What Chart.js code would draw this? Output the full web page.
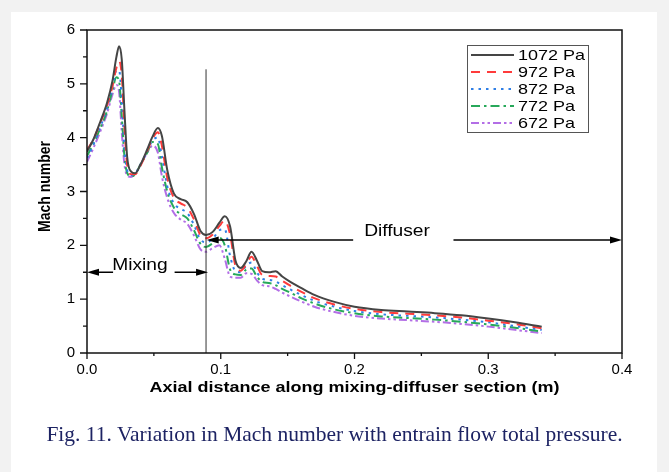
<!DOCTYPE html>
<html lang="en">
<head>
    <meta charset="UTF-8">
    <title>Mach number along mixing-diffuser section</title>
    <script src="https://cdn.jsdelivr.net/npm/chart.js"></script>
    <style>
        html, body {
            margin: 0;
            padding: 0;
            background-color: #f2f2f2;
        }

        body {
            width: 669px;
            height: 472px;
            position: relative;
            overflow: hidden;
        }

        .panel {
            position: absolute;
            left: 11px;
            top: 12px;
            width: 646px;
            height: 470px;
            background-color: #fff;
        }

        #machChart {
            position: absolute;
            left: 0;
            top: 0;
        }

        .caption {
            position: absolute;
            left: 0;
            top: 422px;
            width: 669px;
            text-align: center;
            font-family: 'Liberation Serif', 'Times New Roman', serif;
            font-size: 21.5px;
            color: #1d2363;
        }
    </style>
</head>
<body>
    <div class="panel"></div>
    <canvas id="machChart" width="669" height="472"></canvas>
    <div class="caption">Fig. 11. Variation in Mach number with entrain flow total pressure.</div>

    <script>
        // Axial distance (m) shared by all curves
        const distance = [0, 0.005, 0.010, 0.015, 0.019, 0.022, 0.024, 0.026, 0.028, 0.030,
            0.033, 0.036, 0.040, 0.045, 0.049, 0.053, 0.056, 0.060, 0.065, 0.070,
            0.075, 0.080, 0.085, 0.089, 0.094, 0.099, 0.103, 0.107, 0.111, 0.115,
            0.119, 0.123, 0.127, 0.131, 0.136, 0.141, 0.146, 0.152, 0.160, 0.170,
            0.185, 0.200, 0.220, 0.240, 0.260, 0.280, 0.300, 0.320, 0.340];

        // Mach number for each entrain flow total pressure
        const mach1072 = [3.74, 3.98, 4.30, 4.65, 5.05, 5.50, 5.70, 5.45, 4.50, 3.65,
            3.37, 3.34, 3.50, 3.78, 4.02, 4.18, 4.03, 3.40, 2.96, 2.86,
            2.80, 2.58, 2.26, 2.19, 2.25, 2.42, 2.54, 2.35, 1.72, 1.58,
            1.70, 1.88, 1.72, 1.52, 1.50, 1.52, 1.42, 1.32, 1.21, 1.08,
            0.95, 0.86, 0.80, 0.77, 0.74, 0.70, 0.64, 0.57, 0.49];
        const mach972 = [3.77, 3.98, 4.28, 4.60, 4.95, 5.30, 5.42, 5.15, 4.20, 3.50,
            3.32, 3.32, 3.48, 3.75, 3.98, 4.10, 3.85, 3.25, 2.88, 2.78,
            2.70, 2.48, 2.18, 2.13, 2.20, 2.36, 2.46, 2.20, 1.62, 1.53,
            1.65, 1.79, 1.62, 1.45, 1.43, 1.42, 1.34, 1.25, 1.14, 1.02,
            0.90, 0.82, 0.76, 0.73, 0.70, 0.66, 0.60, 0.54, 0.46];
        const mach872 = [3.62, 3.88, 4.20, 4.55, 4.95, 5.25, 5.25, 4.70, 3.80, 3.40,
            3.30, 3.33, 3.50, 3.75, 3.95, 4.00, 3.65, 3.10, 2.78, 2.68,
            2.60, 2.38, 2.10, 2.06, 2.12, 2.28, 2.30, 1.80, 1.52, 1.50,
            1.62, 1.68, 1.50, 1.38, 1.36, 1.33, 1.26, 1.18, 1.08, 0.97,
            0.86, 0.78, 0.72, 0.69, 0.66, 0.62, 0.57, 0.50, 0.43];
        const mach772 = [3.66, 3.90, 4.18, 4.50, 4.88, 5.12, 5.05, 4.40, 3.65, 3.35,
            3.28, 3.32, 3.50, 3.72, 3.92, 3.88, 3.45, 3.00, 2.70, 2.58,
            2.50, 2.28, 2.02, 1.97, 2.04, 2.14, 2.00, 1.55, 1.46, 1.45,
            1.55, 1.57, 1.42, 1.32, 1.30, 1.26, 1.19, 1.12, 1.02, 0.92,
            0.81, 0.74, 0.68, 0.65, 0.62, 0.58, 0.53, 0.47, 0.40];
        const mach672 = [3.55, 3.82, 4.12, 4.45, 4.80, 4.98, 4.85, 4.10, 3.50, 3.30,
            3.27, 3.33, 3.50, 3.72, 3.85, 3.72, 3.28, 2.88, 2.60, 2.48,
            2.40, 2.18, 1.92, 1.88, 1.95, 2.00, 1.75, 1.42, 1.40, 1.40,
            1.48, 1.47, 1.35, 1.26, 1.24, 1.19, 1.12, 1.05, 0.96, 0.86,
            0.76, 0.69, 0.64, 0.61, 0.58, 0.54, 0.49, 0.43, 0.37];

        const seriesLabels = ['1072 Pa', '972 Pa', '872 Pa', '772 Pa', '672 Pa'];
        const seriesValues = [mach1072, mach972, mach872, mach772, mach672];

        const xTicks = [0, 0.1, 0.2, 0.3, 0.4];
        const yTicks = [0, 1, 2, 3, 4, 5, 6];

        const lineStyles = [
            { color: '#454545', dash: [] },
            { color: '#ff3b3b', dash: [9, 7] },
            { color: '#2f7fe6', dash: [2.5, 5] },
            { color: '#27a85a', dash: [9, 4, 2.5, 4] },
            { color: '#b36ee6', dash: [8, 3, 2.5, 3, 2.5, 3] }
        ];

        const SX = 1.2; // the figure's text looks stretched sideways

        function stretchedText(ctx, text, x, y, font, align) {
            ctx.save();
            ctx.font = font;
            ctx.textBaseline = 'middle';
            ctx.textAlign = align;
            ctx.translate(x, y);
            ctx.scale(SX, 1);
            ctx.fillText(text, 0, 0);
            ctx.restore();
        }

        function arrow(ctx, x1, y, x2) {
            const dir = x2 > x1 ? 1 : -1;
            ctx.beginPath();
            ctx.moveTo(x1, y);
            ctx.lineTo(x2 - dir * 8, y);
            ctx.stroke();
            ctx.beginPath();
            ctx.moveTo(x2, y);
            ctx.lineTo(x2 - dir * 12, y - 3.5);
            ctx.lineTo(x2 - dir * 12, y + 3.5);
            ctx.closePath();
            ctx.fill();
        }

        // frame, ticks and axis titles
        const frameAndTicks = {
            id: 'frameAndTicks',
            afterDraw(chart) {
                const { ctx, chartArea: a, scales: { x, y } } = chart;
                ctx.save();
                ctx.strokeStyle = '#111';
                ctx.lineWidth = 1.5;
                ctx.strokeRect(a.left, a.top, a.right - a.left, a.bottom - a.top);
                ctx.lineWidth = 1.3;
                ctx.beginPath();
                for (let i = 0; i <= 12; i++) {
                    const py = y.getPixelForValue(i * 0.5);
                    const len = i % 2 === 0 ? 7 : 4;
                    ctx.moveTo(a.left - len, py);
                    ctx.lineTo(a.left, py);
                }
                for (let i = 0; i <= 8; i++) {
                    const px = x.getPixelForValue(i * 0.05);
                    const len = i % 2 === 0 ? 6 : 3;
                    ctx.moveTo(px, a.bottom);
                    ctx.lineTo(px, a.bottom + len);
                }
                ctx.stroke();

                ctx.fillStyle = '#000';
                stretchedText(ctx, 'Axial distance along mixing-diffuser section (m)',
                    (a.left + a.right) / 2, 388, 'bold 15px "Liberation Sans", Arial, sans-serif', 'center');

                ctx.save();
                ctx.translate(46, (a.top + a.bottom) / 2 - 5);
                ctx.rotate(-Math.PI / 2);
                ctx.font = 'bold 14px "Liberation Sans", Arial, sans-serif';
                ctx.textAlign = 'center';
                ctx.textBaseline = 'middle';
                ctx.scale(1, 1.15);
                ctx.fillText('Mach number', 0, 0);
                ctx.restore();
                ctx.restore();
            }
        };

        // mixing / diffuser marks
        const sectionMarks = {
            id: 'sectionMarks',
            afterDatasetsDraw(chart) {
                const { ctx, scales: { x, y } } = chart;
                const X = v => x.getPixelForValue(v);
                const Y = v => y.getPixelForValue(v);
                ctx.save();
                ctx.strokeStyle = '#333';
                ctx.lineWidth = 1;
                ctx.beginPath();
                ctx.moveTo(X(0.089), Y(0));
                ctx.lineTo(X(0.089), Y(5.27));
                ctx.stroke();

                ctx.strokeStyle = '#000';
                ctx.fillStyle = '#000';
                ctx.lineWidth = 1.5;
                arrow(ctx, X(0.199), Y(2.1), X(0.0895));
                arrow(ctx, X(0.274), Y(2.1), X(0.4));
                arrow(ctx, X(0.0195), Y(1.5), X(0.0));
                arrow(ctx, X(0.0655), Y(1.5), X(0.0905));

                stretchedText(ctx, 'Diffuser', X(0.2318), Y(2.26), '16px "Liberation Sans", Arial, sans-serif', 'center');
                stretchedText(ctx, 'Mixing', X(0.0396), Y(1.62), '16px "Liberation Sans", Arial, sans-serif', 'center');
                ctx.restore();
            }
        };

        // boxed legend with line samples
        const boxLegend = {
            id: 'boxLegend',
            afterDraw(chart) {
                const { ctx } = chart;
                ctx.save();
                ctx.fillStyle = '#fff';
                ctx.fillRect(467.5, 45.5, 121, 87);
                ctx.strokeStyle = '#555';
                ctx.lineWidth = 1;
                ctx.strokeRect(467.5, 45.5, 121, 87);
                chart.data.datasets.forEach((ds, i) => {
                    const ry = 55 + i * 17;
                    ctx.strokeStyle = ds.borderColor;
                    ctx.lineWidth = 1.8;
                    ctx.setLineDash(ds.borderDash);
                    ctx.beginPath();
                    ctx.moveTo(471, ry);
                    ctx.lineTo(514, ry);
                    ctx.stroke();
                    ctx.setLineDash([]);
                    ctx.fillStyle = '#000';
                    stretchedText(ctx, ds.label, 518, ry + 1, '15px "Liberation Sans", Arial, sans-serif', 'left');
                });
                ctx.restore();
            }
        };

        const datasets = seriesLabels.map((label, i) => ({
            label: label,
            data: distance.map((d, j) => ({ x: d, y: seriesValues[i][j] })),
            borderColor: lineStyles[i].color,
            borderDash: lineStyles[i].dash,
            borderWidth: 2,
            pointRadius: 0,
            fill: false,
            cubicInterpolationMode: 'monotone'
        }));

        const ctx = document.getElementById('machChart').getContext('2d');
        new Chart(ctx, {
            type: 'line',
            data: { datasets: datasets },
            options: {
                responsive: false,
                animation: false,
                devicePixelRatio: 1,
                layout: { padding: { left: 0, top: 30, right: 47, bottom: 74 } },
                plugins: {
                    legend: { display: false },
                    tooltip: { enabled: false }
                },
                scales: {
                    x: {
                        type: 'linear',
                        min: 0,
                        max: 0.4,
                        afterBuildTicks: scale => { scale.ticks = xTicks.map(v => ({ value: v })); },
                        afterFit: scale => { scale.height = 45; },
                        grid: { display: false, drawTicks: false },
                        border: { display: false },
                        ticks: {
                            color: '#000',
                            padding: 8,
                            maxRotation: 0,
                            font: { family: '"Liberation Sans", Arial, sans-serif', size: 15 },
                            callback: v => v.toFixed(1)
                        }
                    },
                    y: {
                        min: 0,
                        max: 6,
                        afterBuildTicks: scale => { scale.ticks = yTicks.map(v => ({ value: v })); },
                        afterFit: scale => { scale.width = 87; },
                        grid: { display: false, drawTicks: false },
                        border: { display: false },
                        ticks: {
                            color: '#000',
                            padding: 12,
                            font: { family: '"Liberation Sans", Arial, sans-serif', size: 15 }
                        }
                    }
                }
            },
            plugins: [frameAndTicks, sectionMarks, boxLegend]
        });
    </script>
</body>
</html>
